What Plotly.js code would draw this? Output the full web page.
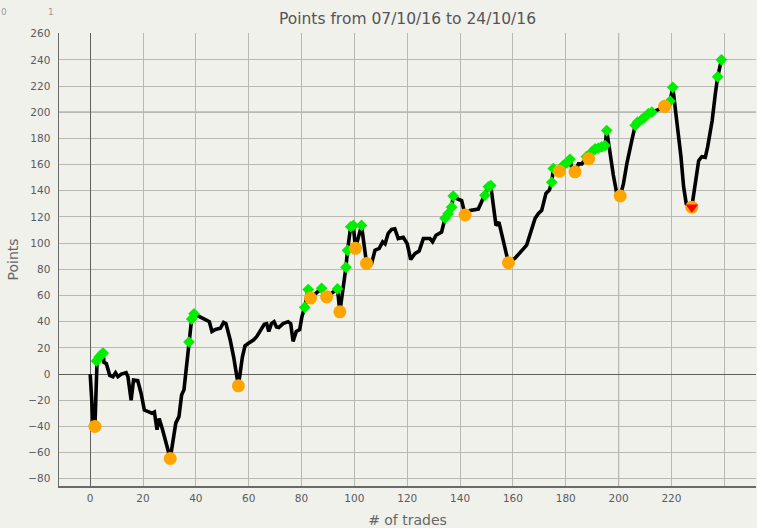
<!DOCTYPE html>
<html>
<head>
<meta charset="utf-8">
<script src="https://cdn.plot.ly/plotly-3.0.1.min.js"></script>
<style>
  body { margin: 0; background: #f1f1ec; }
  #chart {
    width: 757px;
    height: 528px;
    outline: 2px solid #858585;
    outline-offset: -2px;
  }
</style>
</head>
<body>
<div id="chart"></div>
<script>
// Points curve (x = trade number, y = cumulative points)
const tradeNo = [0, 1.1, 1.8, 2.6, 3.4, 4.3, 4.9, 5.2, 6.1, 7.4, 8.6, 9.6, 10.5, 11.8, 13.6, 14.3, 15.5, 16.4, 18, 19.3,
  20.5, 22.4, 23.4, 24.3, 25.3, 26.1, 27.4, 30.3, 32.4, 33.6, 34.6, 35.5, 37.4, 38.4, 39.3, 41.1, 43.6, 45.1, 46.1, 47.4,
  49.3, 50.5, 51.4, 53, 54.3, 56.1, 57.6, 58.6, 59.9, 61.8, 63, 64.3, 65.9, 66.8, 67.6, 68.6, 69.6, 70.5, 71.4, 73,
  74.9, 75.9, 76.8, 78, 79.3, 80.1, 81.2, 82.5, 83.4, 87.6, 89.5, 93.6, 94.5, 96.8, 97.4, 98.6, 99.6, 100.4, 102.7, 104.6,
  106.5, 107.8, 109.4, 110.7, 111.6, 112.8, 114.1, 115.3, 116.6, 118.5, 120, 121.3, 122.9, 124.5, 126.1, 128.6, 129.6, 130.9, 133, 134.3,
  135.5, 136.8, 137.4, 139.3, 140.6, 141.9, 143.8, 146.9, 148.8, 149.4, 150.7, 151.6, 152.8, 153.6, 154.7, 156.1, 157.4, 158.3, 160.8, 165.2,
  168.4, 169.6, 170.9, 172.5, 173.8, 174.7, 175.3, 177.6, 179.1, 180.4, 181.6, 182.3, 183.5, 184.8, 186.1, 187, 188.7, 189.8, 191.1, 192.3,
  193.6, 194.9, 195.5, 196.8, 198, 199.3, 200.6, 201.8, 203.1, 205, 206.3, 207.2, 208.8, 209.8, 211.3, 212.6, 213.8, 215.7, 217.4, 219.5,
  220.5, 221.4, 222.3, 223.6, 224.6, 225.6, 227.7, 229, 230.3, 231.5, 232.8, 233.7, 235.4, 236.6, 237.5, 238.9];
const points = [0, -37, -40, 10, 13, 15, 16, 9, 8, -1, -2, 1, -2, 0, 1, -2, -20, -4.5, -5, -15,
  -27.5, -29, -30, -29, -42.5, -34, -42.5, -64.5, -37.5, -32.5, -16, -12, 24.5, 42, 46, 44, 41, 40, 32.5, 34,
  35, 39.5, 38.5, 26, 13, -9, 13, 21.5, 23.5, 26, 28.5, 32.5, 38, 38.5, 32.5, 38.5, 40, 36, 35.5, 38.5,
  40, 38.5, 25, 32.5, 34, 43.5, 51, 64.5, 58, 65.5, 59, 65, 47.5, 81.5, 94.5, 112.5, 113.5, 96, 113.5, 84.5,
  84.5, 94.5, 96, 101, 99.5, 107.5, 110.5, 111, 103.5, 104.5, 99.5, 87.5, 92, 94, 103.5, 103.5, 101, 106, 108.5, 119,
  122.5, 127.5, 136, 133.5, 132.5, 121.5, 125, 126, 134, 136.5, 143, 144, 122.5, 113.5, 116, 104.5, 92, 85, 88.5, 98.5,
  119, 122.5, 125, 138, 140.5, 146.5, 157, 155, 159.5, 161.5, 164, 157, 154.5, 160.5, 160.5, 163, 164.5, 169.5, 172, 172.5,
  173.5, 174.5, 186, 167, 152, 138, 136, 145, 160.5, 178.5, 190, 192.5, 194.5, 196, 199, 200, 200.5, 202.5, 204.5, 208.5,
  219, 204, 186, 166, 143, 130, 127.5, 145.5, 163, 166, 165.5, 173.5, 193.5, 214, 227, 240];

// Green diamonds
const greenX = [2.4, 3.4, 4.3, 4.9, 37.4, 38.4, 39.3, 81.2, 82.5, 87.6, 93.6, 96.8, 97.4, 98.6, 99.6, 102.7,
  134.3, 135.5, 136.8, 137.4, 149.4, 150.7, 151.6, 174.7, 175.3, 179.1, 180.4, 181.6, 187.8, 189.8, 191.1, 192.3, 193.6, 194.9, 195.5,
  206.3, 207.2, 208.8, 209.8, 211.3, 212.6, 219.5, 220.5, 237.5, 238.9];
const greenY = [10, 13, 15, 16, 24.5, 42, 46, 51, 64.5, 65.5, 65, 81.5, 94.5, 112.5, 113.5, 113.5,
  119, 122.5, 127.5, 136, 136.5, 143, 144, 146.5, 157, 159.5, 161.5, 164, 166, 169.5, 172, 172.5, 173.5, 174.5, 186,
  190, 192.5, 194.5, 196, 199, 200, 208.5, 219, 227, 240];

// Orange circles
const orangeX = [1.8, 30.3, 56.1, 83.4, 89.5, 94.5, 100.4, 104.6, 141.9, 158.3, 177.6, 183.5, 188.7, 200.6, 217.4, 227.7];
const orangeY = [-40, -64.5, -9, 58, 59, 47.5, 96, 84.5, 121.5, 85, 155, 154.5, 164.5, 136, 204.5, 127.5];

// Red triangle
const redX = [227.7];
const redY = [127.5];

// Axis ticks
const xTicks = [0, 20, 40, 60, 80, 100, 120, 140, 160, 180, 200, 220, 240];
const xTickText = ['0', '20', '40', '60', '80', '100', '120', '140', '160', '180', '200', '220', ''];

const bg = '#f1f1ec';
const gridLight = '#b9b9b4';
const gridDark = '#5f5f5f';
const tickFont = { family: 'DejaVu Sans', size: 10.5, color: '#5a5a62' };

const traces = [
  {
    x: tradeNo, y: points, type: 'scatter', mode: 'lines',
    line: { color: '#000000', width: 3.6 }, hoverinfo: 'skip'
  },
  {
    x: greenX, y: greenY, type: 'scatter', mode: 'markers',
    marker: { symbol: 'diamond', color: '#00ee00', size: 9 }
  },
  {
    x: orangeX, y: orangeY, type: 'scatter', mode: 'markers',
    marker: { symbol: 'circle', color: '#ffa500', size: 13 }
  },
  {
    x: redX, y: redY, type: 'scatter', mode: 'markers',
    marker: { symbol: 'triangle-down', color: '#ff0000', size: 11 }
  }
];

const layout = {
  width: 757,
  height: 528,
  margin: { l: 59, r: 1, t: 33, b: 42 },
  paper_bgcolor: bg,
  plot_bgcolor: bg,
  showlegend: false,
  title: {
    text: 'Points from 07/10/16 to 24/10/16',
    font: { family: 'DejaVu Sans', size: 15.5, color: '#555555' },
    x: 0.5, xref: 'paper', y: 0.976, yref: 'container'
  },
  xaxis: {
    range: [-11.8, 252],
    tickmode: 'array', tickvals: xTicks, ticktext: xTickText,
    showgrid: true, gridcolor: gridLight, gridwidth: 1,
    zeroline: true, zerolinecolor: gridDark, zerolinewidth: 1,
    showline: true, linecolor: '#6a6a6a', linewidth: 1.5,
    ticks: '', tickfont: tickFont, ticklabelstandoff: 2,
    title: { text: '# of trades', font: { family: 'DejaVu Sans', size: 14, color: '#666666' }, standoff: 12 }
  },
  yaxis: {
    range: [-85.5, 260.5],
    dtick: 20, tick0: 0,
    showgrid: true, gridcolor: gridLight, gridwidth: 1,
    zeroline: true, zerolinecolor: gridDark, zerolinewidth: 1,
    showline: true, linecolor: '#6a6a6a', linewidth: 1.5,
    ticks: '', tickfont: tickFont, ticklabelstandoff: 5,
    title: { text: 'Points', font: { family: 'DejaVu Sans', size: 14, color: '#666666' }, standoff: 6 }
  },
  // darker lines at 200 on both axes
  shapes: [
    { type: 'line', xref: 'x', yref: 'paper', x0: 200, x1: 200, y0: 0, y1: 1,
      line: { color: gridDark, width: 1 }, layer: 'below' },
    { type: 'line', xref: 'paper', yref: 'y', x0: 0, x1: 1, y0: 200, y1: 200,
      line: { color: gridDark, width: 1 }, layer: 'below' }
  ],
  annotations: [
    { text: '0', xref: 'paper', yref: 'paper', x: -0.079, y: 1.062, showarrow: false,
      font: { family: 'DejaVu Sans', size: 9, color: '#9a9a9a' }, xanchor: 'center' },
    { text: '1', xref: 'paper', yref: 'paper', x: -0.0115, y: 1.062, showarrow: false,
      font: { family: 'DejaVu Sans', size: 9, color: '#9a9a9a' }, xanchor: 'center' }
  ]
};

Plotly.newPlot('chart', traces, layout, { displayModeBar: false, staticPlot: true });
</script>
</body>
</html>
